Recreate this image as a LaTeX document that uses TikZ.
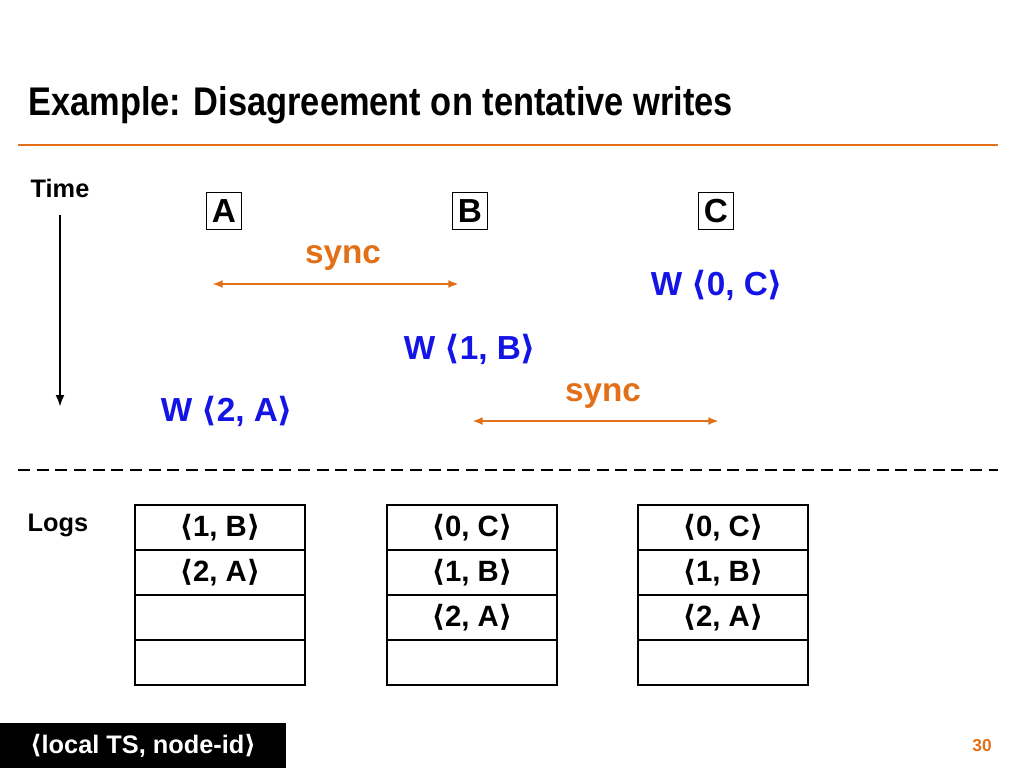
\documentclass[tikz,border=0pt]{standalone}
\usepackage{fontspec}
\usetikzlibrary{arrows.meta}
\setmainfont{Liberation Sans}
\newfontfamily\dv{DejaVu Sans}
\newcommand{\la}{{\dv\symbol{"27E8}}}
\newcommand{\ra}{{\dv\symbol{"27E9}}}
\definecolor{org}{RGB}{225,112,25}
\definecolor{blu}{RGB}{20,20,230}
\begin{document}
\begin{tikzpicture}[x=0.75pt,y=-0.75pt,
  txt/.style={font=\bfseries\fontsize{22}{24}\selectfont,inner sep=0pt},
  big/.style={font=\bfseries\fontsize{25}{28}\selectfont,inner sep=0pt},
  lbl/.style={big,draw,line width=1.2pt,minimum width=26pt,minimum height=28pt,inner sep=1pt},
  syncarr/.style={org,line width=2pt,{Latex[length=8pt]}-{Latex[length=8pt]}},
  cell/.style={draw,line width=1.2pt,minimum width=127.5pt,minimum height=33.75pt,inner sep=0pt,font=\bfseries\fontsize{22}{24}\selectfont}]
\useasboundingbox (0,0) rectangle (1024,768);
\node[inner sep=0pt,anchor=west,font=\bfseries\fontsize{30}{34}\selectfont] (title) at (28,105) {\addfontfeatures{FakeStretch=0.86}Example: Disagreement on tentative writes};
\draw[org,line width=1.5pt] (18,145) -- (998,145);
\node[txt,font=\bfseries\fontsize{19}{22}\selectfont] (time) at (60,188) {Time};
\coordinate (t1) at (60,215); \coordinate (t2) at (60,407);
\draw[line width=2pt,-{Latex[length=9pt]}] (t1) -- (t2);
\node[lbl] (A) at (224,211) {A};
\node[lbl] (B) at (470,211) {B};
\node[lbl] (C) at (716,211) {C};
\node[big,org] (s1) at (343,258) {sync};
\coordinate (s1a) at (212,284); \coordinate (s1b) at (459,284);
\draw[syncarr] (s1a) -- (s1b);
\node[big,blu] (w0) at (717,285) {W \la0, C\ra};
\node[big,blu] (w1) at (470,349) {W \la1, B\ra};
\node[big,org] (s2) at (603,396) {sync};
\coordinate (s2a) at (472,421); \coordinate (s2b) at (719,421);
\draw[syncarr] (s2a) -- (s2b);
\node[big,blu] (w2) at (227,411) {W \la2, A\ra};
\coordinate (d1) at (18,470); \coordinate (d2) at (998,470);
\draw[line width=2pt,dash pattern=on 9pt off 5pt] (d1) -- (d2);
\node[txt,font=\bfseries\fontsize{19}{22}\selectfont] (logs) at (58,525) {Logs};
\node[cell] (L1a) at (220,527.5) {\la1, B\ra};
\node[cell] (L1b) at (220,572.5) {\la2, A\ra};
\node[cell] (L1c) at (220,617.5) {};
\node[cell] (L1d) at (220,662.5) {};
\node[cell] (L2a) at (472,527.5) {\la0, C\ra};
\node[cell] (L2b) at (472,572.5) {\la1, B\ra};
\node[cell] (L2c) at (472,617.5) {\la2, A\ra};
\node[cell] (L2d) at (472,662.5) {};
\node[cell] (L3a) at (723,527.5) {\la0, C\ra};
\node[cell] (L3b) at (723,572.5) {\la1, B\ra};
\node[cell] (L3c) at (723,617.5) {\la2, A\ra};
\node[cell] (L3d) at (723,662.5) {};
\fill (0,723) rectangle (286,768);
\node[txt,white,font=\bfseries\fontsize{19}{22}\selectfont] (leg) at (143,746) {\la local TS, node-id\ra};
\node[txt,org,font=\bfseries\fontsize{13}{15}\selectfont] (pg) at (982,746) {30};
\end{tikzpicture}
\end{document}
